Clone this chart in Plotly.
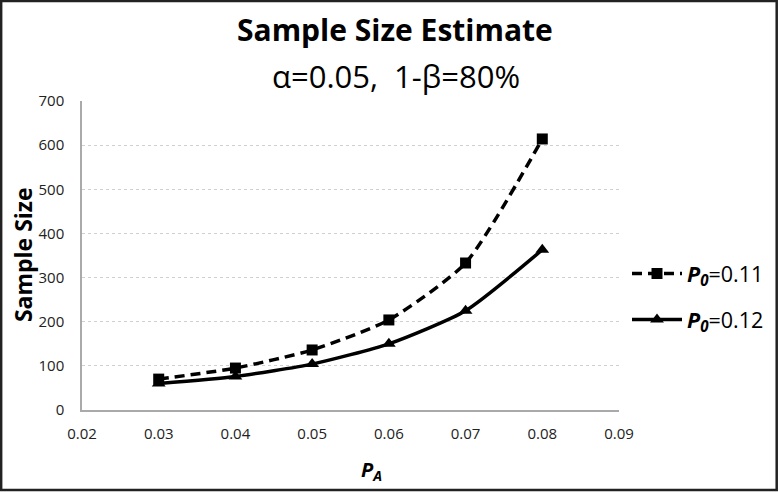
import plotly.graph_objects as go

pa = [0.03, 0.04, 0.05, 0.06, 0.07, 0.08]
n_p011 = [70, 95, 136, 204, 333, 614]
n_p012 = [60, 76, 104, 150, 225, 363]
x_ticks = [0.02, 0.03, 0.04, 0.05, 0.06, 0.07, 0.08, 0.09]
x_tick_labels = ["0.02", "0.03", "0.04", "0.05", "0.06", "0.07", "0.08", "0.09"]
y_ticks = [0, 100, 200, 300, 400, 500, 600, 700]

FONT = "Open Sans"

fig = go.Figure()
fig.add_trace(go.Scatter(
    x=pa, y=n_p011, mode="lines+markers", legendgroup="a",
    name="<b><i>P</i></b><sub><b><i>0</i></b></sub>=0.11",
    line=dict(color="black", width=3.5, dash="10px,6px", shape="spline", smoothing=0.6),
    marker=dict(symbol="square", size=11, color="black"),
))
fig.add_trace(go.Scatter(
    x=pa, y=n_p012, mode="lines+markers", legendgroup="b",
    name="<b><i>P</i></b><sub><b><i>0</i></b></sub>=0.12",
    line=dict(color="black", width=3.5, shape="spline", smoothing=0.6),
    marker=dict(symbol="triangle-up", size=12, color="black"),
))

L, R, T, B = 82, 160, 101, 82
W, H = 780, 492
pw, ph = W - L - R, H - T - B


def px(x):
    return (x - L) / pw


def py(y):
    return (H - B - y) / ph


fig.update_layout(
    width=W, height=H,
    margin=dict(l=L, r=R, t=T, b=B),
    paper_bgcolor="white", plot_bgcolor="white",
    font=dict(family=FONT, color="#222"),
    showlegend=True,
    legend=dict(x=px(627), y=py(296.5), xanchor="left", yanchor="middle",
                font=dict(size=21.5, color="black", family=FONT),
                tracegroupgap=15, itemwidth=50, bgcolor="rgba(0,0,0,0)"),
    xaxis=dict(range=[0.02, 0.09], tickvals=x_ticks, ticktext=x_tick_labels,
               showgrid=False, showline=True, linecolor="#aaa", linewidth=1.5,
               ticks="", tickfont=dict(size=15, color="#222"), ticklabelstandoff=9,
               zeroline=False),
    yaxis=dict(range=[0, 700], tickvals=y_ticks, showgrid=True,
               gridcolor="#d0d0d0", griddash="dot", gridwidth=1,
               showline=True, linecolor="#aaa", linewidth=1.5,
               ticks="", tickfont=dict(size=15, color="#222"), ticklabelstandoff=13,
               zeroline=False),
    annotations=[
        dict(text="<b>Sample Size Estimate</b>", xref="paper", yref="paper",
             x=px(396), y=py(29), xanchor="center", yanchor="middle",
             showarrow=False, font=dict(size=30, color="black", family=FONT)),
        dict(text="α=0.05,  1-β=80%", xref="paper", yref="paper",
             x=px(397), y=py(76), xanchor="center", yanchor="middle",
             showarrow=False, font=dict(size=31, color="black", family=FONT)),
        dict(text="<b>Sample Size</b>", xref="paper", yref="paper",
             x=px(23), y=py(255), xanchor="center", yanchor="middle", textangle=-90,
             showarrow=False, font=dict(size=23, color="black", family=FONT)),
        dict(text="<b><i>P</i></b><sub><b><i>A</i></b></sub>", xref="paper", yref="paper",
             x=px(372), y=py(470), xanchor="center", yanchor="middle",
             showarrow=False, font=dict(size=20, color="black", family=FONT)),
    ],
    shapes=[dict(type="rect", xref="paper", yref="paper",
                 x0=px(1), x1=px(778), y0=py(490), y1=py(1),
                 line=dict(color="#222", width=2.5), fillcolor="rgba(0,0,0,0)")],
)

fig.write_html("out.html", config={"displayModeBar": False},
               post_script="document.body.style.margin='0px';")
